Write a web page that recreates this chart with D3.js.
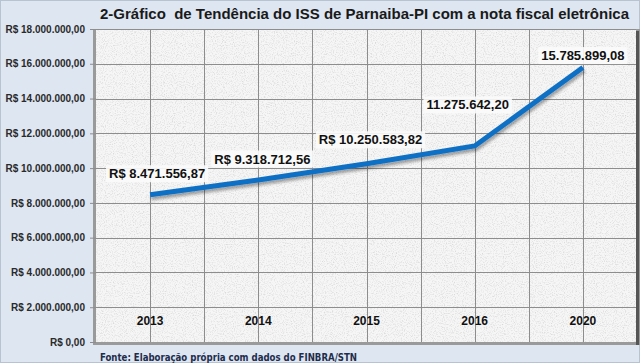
<!DOCTYPE html>
<html>
<head>
<meta charset="utf-8">
<script src="https://cdn.jsdelivr.net/npm/d3@7"></script>
<style>
  html, body { margin: 0; padding: 0; background: #dde6f1; }
  svg { display: block; }
</style>
</head>
<body>
<div id="chart"></div>
<script>
// Data
var years = ["2013", "2014", "2015", "2016", "2020"];
var issValues = [8471556.87, 9318712.56, 10250583.82, 11275642.20, 15785899.08];
var valueLabels = ["R$ 8.471.556,87", "R$ 9.318.712,56", "R$ 10.250.583,82", "11.275.642,20", "15.785.899,08"];
var yTicks = [0, 2000000, 4000000, 6000000, 8000000, 10000000, 12000000, 14000000, 16000000, 18000000];
var titleText = "2-Gráfico  de Tendência do ISS de Parnaiba-PI com a nota fiscal eletrônica";
var sourceText = "Fonte: Elaboração própria com dados do FINBRA/STN";

// Layout
var width = 640, height = 363;
var plot = { left: 96, right: 637, top: 29, bottom: 342 };
// manual label placement like the original (dx, dy from the point)
var labelNudge = [[7, -21], [4, -21], [4, -24], [-7, -41], [0, -12]];

var svg = d3.select("#chart").append("svg")
  .attr("width", width)
  .attr("height", height);

var defs = svg.append("defs");

// paper texture for plot area
var tex = defs.append("filter").attr("id", "paper")
  .attr("x", 0).attr("y", 0).attr("width", 1).attr("height", 1);
tex.append("feTurbulence").attr("type", "fractalNoise")
  .attr("baseFrequency", 0.9).attr("numOctaves", 2).attr("seed", 3).attr("result", "noise");
tex.append("feColorMatrix").attr("in", "noise").attr("type", "matrix")
  .attr("values", "0 0 0 0 0.55  0 0 0 0 0.55  0 0 0 0 0.55  0 0 0 -1.4 0.75")
  .attr("result", "spots");
tex.append("feComposite").attr("in", "spots").attr("in2", "SourceGraphic").attr("operator", "in");

var shadow = defs.append("filter").attr("id", "lineShadow")
  .attr("x", "-10%").attr("y", "-30%").attr("width", "120%").attr("height", "160%");
shadow.append("feDropShadow").attr("dx", 1).attr("dy", 3).attr("stdDeviation", 1.6)
  .attr("flood-color", "#000").attr("flood-opacity", 0.35);

// outer border
svg.append("rect")
  .attr("x", 0.5).attr("y", 0.5)
  .attr("width", width - 1).attr("height", height - 1)
  .attr("fill", "#dde6f1")
  .attr("stroke", "#b7c3d0");

var x = d3.scaleBand()
  .domain(years)
  .range([plot.left, plot.right])
  .padding(0);

var y = d3.scaleLinear()
  .domain([0, 18000000])
  .range([plot.bottom, plot.top]);

// plot area with shadow on left/bottom/right
svg.append("rect")
  .attr("x", plot.left - 3).attr("y", plot.top)
  .attr("width", plot.right - plot.left + 6).attr("height", plot.bottom - plot.top + 3)
  .attr("fill", "#9a9a9a");
svg.append("rect")
  .attr("x", plot.right - 1).attr("y", plot.top + 2)
  .attr("width", 3).attr("height", plot.bottom - plot.top + 1)
  .attr("fill", "#555");
svg.append("rect")
  .attr("x", plot.left).attr("y", plot.top)
  .attr("width", plot.right - plot.left - 1).attr("height", plot.bottom - plot.top)
  .attr("fill", "#f6f6f6");
svg.append("rect")
  .attr("x", plot.left).attr("y", plot.top)
  .attr("width", plot.right - plot.left - 1).attr("height", plot.bottom - plot.top)
  .attr("fill", "#fff")
  .attr("filter", "url(#paper)");

// gridlines
var grid = svg.append("g").attr("class", "grid")
  .attr("stroke", "#8d8d8d").attr("stroke-width", 1);

grid.selectAll("line.h")
  .data(yTicks.slice(1))
  .join("line")
  .attr("class", "h")
  .attr("x1", plot.left).attr("x2", plot.right - 1)
  .attr("y1", function(d) { return Math.round(y(d)) + 0.5; })
  .attr("y2", function(d) { return Math.round(y(d)) + 0.5; });

var vLines = [];
years.forEach(function(yr, i) {
  if (i > 0) vLines.push(x(yr));
  vLines.push(x(yr) + x.bandwidth() / 2);
});
grid.selectAll("line.v")
  .data(vLines)
  .join("line")
  .attr("class", "v")
  .attr("y1", plot.top).attr("y2", plot.bottom)
  .attr("x1", function(d) { return Math.round(d) + 0.5; })
  .attr("x2", function(d) { return Math.round(d) + 0.5; });

// y axis
var yAxis = d3.axisLeft(y)
  .tickValues(yTicks)
  .tickSize(6)
  .tickPadding(5)
  .tickFormat(function(d) {
    return "R$ " + d3.format(",.2f")(d).replace(/,/g, "#").replace(".", ",").replace(/#/g, ".");
  });

var yg = svg.append("g")
  .attr("transform", "translate(" + plot.left + ",0)")
  .call(yAxis);
yg.select(".domain").remove();
yg.selectAll(".tick line").attr("stroke", "#8d8d8d");
yg.selectAll(".tick text")
  .attr("font-family", "Liberation Sans, Arial, sans-serif")
  .attr("font-size", 10)
  .attr("font-weight", "bold")
  .attr("fill", "#2a2a2a");

// category labels inside the plot
svg.append("g").selectAll("text")
  .data(years)
  .join("text")
  .attr("x", function(d) { return x(d) + x.bandwidth() / 2; })
  .attr("y", 325)
  .attr("text-anchor", "middle")
  .attr("font-family", "Liberation Sans, Arial, sans-serif")
  .attr("font-size", 12)
  .attr("font-weight", "bold")
  .attr("fill", "#111")
  .text(function(d) { return d; });

// the line
var line = d3.line()
  .x(function(d, i) { return x(years[i]) + x.bandwidth() / 2; })
  .y(function(d) { return y(d); });

svg.append("path")
  .datum(issValues)
  .attr("d", line)
  .attr("fill", "none")
  .attr("stroke", "#1170c4")
  .attr("stroke-width", 5)
  .attr("stroke-linejoin", "miter")
  .attr("filter", "url(#lineShadow)");

// data labels
var labels = svg.append("g").selectAll("g")
  .data(issValues)
  .join("g")
  .attr("transform", function(d, i) {
    var px = x(years[i]) + x.bandwidth() / 2 + labelNudge[i][0];
    var py = y(d) + labelNudge[i][1];
    return "translate(" + px + "," + py + ")";
  });

labels.append("text")
  .attr("text-anchor", "middle")
  .attr("dy", "0.35em")
  .attr("font-family", "Liberation Sans, Arial, sans-serif")
  .attr("font-size", 13)
  .attr("font-weight", "bold")
  .attr("fill", "#111")
  .text(function(d, i) { return valueLabels[i]; })
  .each(function() {
    var b = this.getBBox();
    d3.select(this.parentNode).insert("rect", "text")
      .attr("x", b.x - 3).attr("y", b.y - 1)
      .attr("width", b.width + 6).attr("height", b.height + 2)
      .attr("fill", "#fbfbfb").attr("opacity", 0.9);
  });

// title
svg.append("text")
  .attr("x", 100)
  .attr("y", 19)
  .attr("font-family", "Liberation Sans, Arial, sans-serif")
  .attr("font-size", 15)
  .attr("font-weight", "bold")
  .attr("fill", "#1a1a1a")
  .attr("xml:space", "preserve")
  .style("white-space", "pre")
  .text(titleText);

// source note
svg.append("text")
  .attr("x", 100)
  .attr("y", 361)
  .attr("font-family", "DejaVu Sans Condensed, DejaVu Sans, sans-serif")
  .attr("font-size", 10.5)
  .attr("font-weight", "bold")
  .attr("fill", "#1f2d4d")
  .attr("textLength", 257)
  .attr("lengthAdjust", "spacingAndGlyphs")
  .text(sourceText);
</script>
</body>
</html>
